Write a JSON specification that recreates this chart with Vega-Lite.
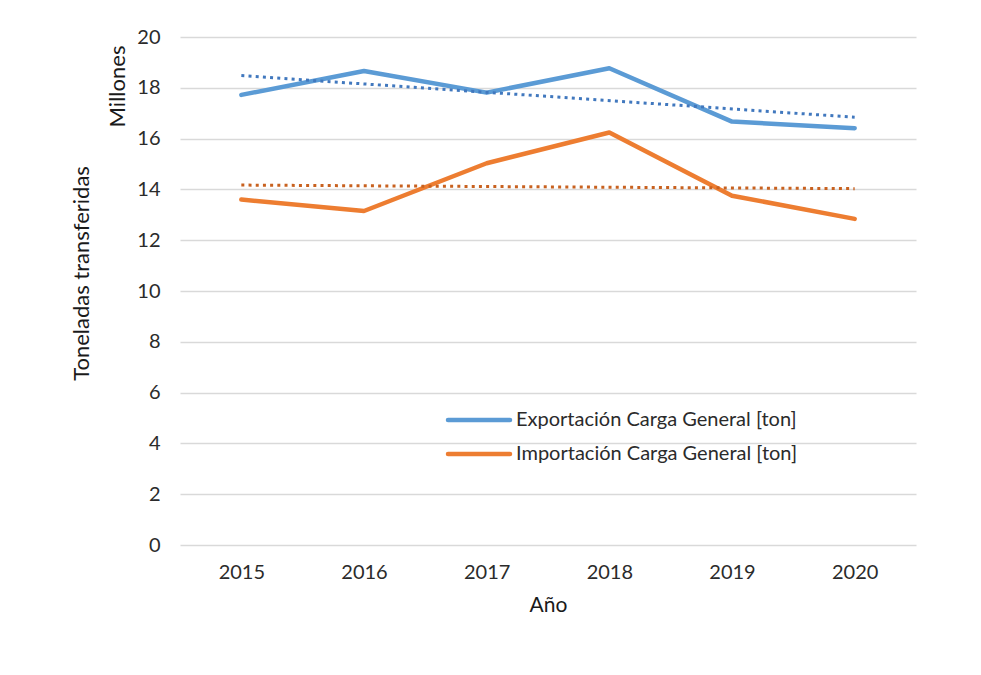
{
  "$schema": "https://vega.github.io/schema/vega-lite/v6.json",
  "width": 736,
  "height": 508,
  "autosize": "none",
  "padding": {"left": 180, "top": 37, "right": 65, "bottom": 130},
  "background": "white",
  "config": {
    "view": {"stroke": null},
    "font": "Lato",
    "axis": {
      "labelFont": "Lato",
      "titleFont": "Lato",
      "labelColor": "#2b2b2b",
      "titleColor": "#1a1a1a",
      "titleFontWeight": "normal",
      "gridColor": "#d9d9d9",
      "gridWidth": 1.6,
      "domain": false,
      "ticks": false
    }
  },
  "data": {
    "values": [
      {"year": "2015", "serie": "Exportación Carga General [ton]", "valor": 17.72, "tipo": "dato"},
      {"year": "2016", "serie": "Exportación Carga General [ton]", "valor": 18.66, "tipo": "dato"},
      {"year": "2017", "serie": "Exportación Carga General [ton]", "valor": 17.81, "tipo": "dato"},
      {"year": "2018", "serie": "Exportación Carga General [ton]", "valor": 18.77, "tipo": "dato"},
      {"year": "2019", "serie": "Exportación Carga General [ton]", "valor": 16.67, "tipo": "dato"},
      {"year": "2020", "serie": "Exportación Carga General [ton]", "valor": 16.41, "tipo": "dato"},
      {"year": "2015", "serie": "Importación Carga General [ton]", "valor": 13.6, "tipo": "dato"},
      {"year": "2016", "serie": "Importación Carga General [ton]", "valor": 13.15, "tipo": "dato"},
      {"year": "2017", "serie": "Importación Carga General [ton]", "valor": 15.03, "tipo": "dato"},
      {"year": "2018", "serie": "Importación Carga General [ton]", "valor": 16.24, "tipo": "dato"},
      {"year": "2019", "serie": "Importación Carga General [ton]", "valor": 13.75, "tipo": "dato"},
      {"year": "2020", "serie": "Importación Carga General [ton]", "valor": 12.84, "tipo": "dato"},
      {"year": "2015", "serie": "Exportación Carga General [ton]", "valor": 18.48, "tipo": "tendencia"},
      {"year": "2020", "serie": "Exportación Carga General [ton]", "valor": 16.84, "tipo": "tendencia"},
      {"year": "2015", "serie": "Importación Carga General [ton]", "valor": 14.17, "tipo": "tendencia"},
      {"year": "2020", "serie": "Importación Carga General [ton]", "valor": 14.03, "tipo": "tendencia"}
    ]
  },
  "encoding": {
    "x": {
      "field": "year",
      "type": "ordinal",
      "scale": {"type": "point", "padding": 0.5},
      "axis": {
        "title": "Año",
        "labelAngle": 0,
        "labelFontSize": 20,
        "labelPadding": 17,
        "titleFontSize": 21,
        "titlePadding": 12,
        "grid": false
      }
    }
  },
  "layer": [
    {
      "transform": [{"filter": "datum.tipo === 'dato'"}],
      "mark": {"type": "line", "strokeWidth": 4.5, "strokeCap": "round", "strokeJoin": "round"},
      "encoding": {
        "y": {
          "field": "valor",
          "type": "quantitative",
          "scale": {"domain": [0, 20]},
          "axis": {
            "values": [0, 2, 4, 6, 8, 10, 12, 14, 16, 18, 20],
            "grid": true,
            "labelFontSize": 20,
            "labelPadding": 20,
            "title": "Toneladas transferidas",
            "titleFontSize": 22,
            "titleAngle": -90,
            "titleX": -99,
            "titleY": 236,
            "titleAlign": "center",
            "titleBaseline": "middle"
          }
        },
        "color": {
          "field": "serie",
          "type": "nominal",
          "scale": {"range": ["#5b9bd5", "#ed7d31"]},
          "legend": {
            "title": null,
            "orient": "none",
            "legendX": 286,
            "legendY": 370,
            "symbolType": "M-3,0H3",
            "symbolSize": 427,
            "symbolStrokeWidth": 4.5,
            "labelFont": "Lato",
            "labelFontSize": 20,
            "labelColor": "#2b2b2b",
            "labelOffset": 24,
            "rowPadding": 11,
            "padding": 0,
            "labelLimit": 400,
            "encode": {"symbols": {"update": {"strokeCap": {"value": "round"}}}}
          }
        }
      }
    },
    {
      "transform": [{"filter": "datum.tipo === 'tendencia'"}],
      "mark": {"type": "line", "strokeWidth": 3, "strokeDash": [3, 4.2]},
      "encoding": {
        "y": {
          "field": "valor",
          "type": "quantitative",
          "scale": {"domain": [0, 20]},
          "axis": {
            "orient": "right",
            "labels": false,
            "grid": false,
            "title": "Millones",
            "titleFontSize": 22,
            "titleAngle": -90,
            "titleX": -799,
            "titleY": 49,
            "titleAlign": "center",
            "titleBaseline": "middle"
          }
        },
        "color": {
          "field": "serie",
          "type": "nominal",
          "scale": {"range": ["#4178be", "#c8611f"]},
          "legend": null
        }
      }
    }
  ],
  "resolve": {"scale": {"color": "independent"}, "axis": {"y": "independent"}}
}
